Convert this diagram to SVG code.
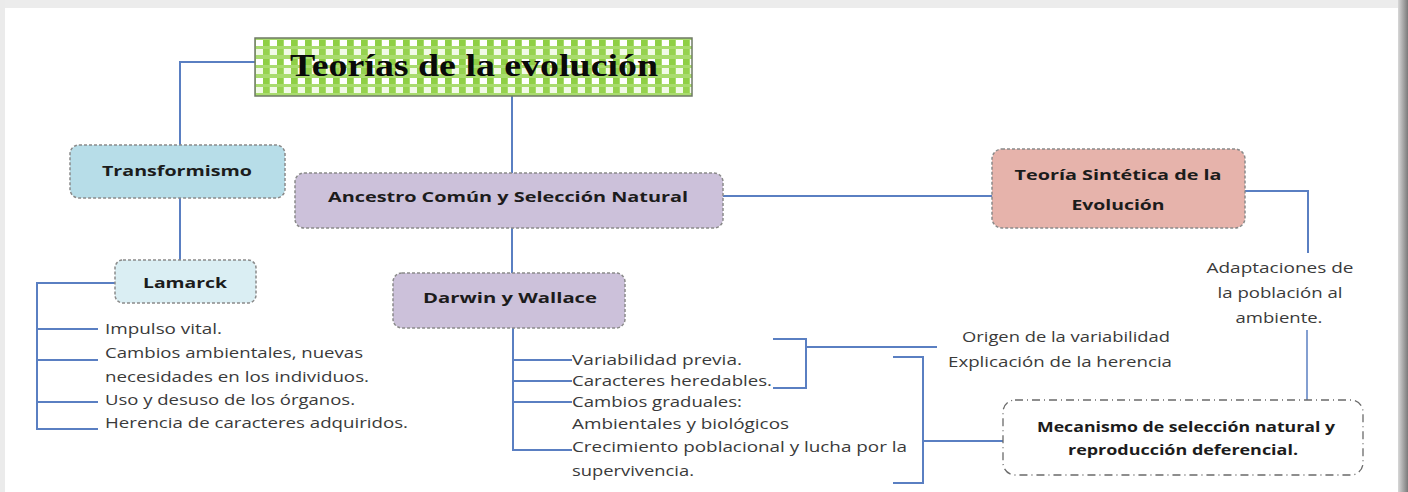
<svg xmlns="http://www.w3.org/2000/svg" width="1408" height="492" viewBox="0 0 1408 492">
<defs>
<pattern id="chk" x="255" y="38" width="14" height="19" patternUnits="userSpaceOnUse">
<rect width="14" height="19" fill="#a9dc6e"/>
<rect x="1" y="2" width="7" height="6" fill="#ffffff"/>
<rect x="8" y="2" width="6" height="6" fill="#8fcf45"/>
<rect x="1" y="11" width="7" height="6" fill="#f2fae8"/>
<rect x="8" y="11" width="6" height="6" fill="#96d24f"/>
</pattern>
<linearGradient id="shadowR" x1="0" x2="1" y1="0" y2="0">
<stop offset="0" stop-color="#d8d8d8"/>
<stop offset="1" stop-color="#7a7a7a"/>
</linearGradient>
</defs>
<style>
.conn{fill:none;stroke:#5a7fc2;stroke-width:2}
.box{stroke:#8a8a8a;stroke-width:1.5;stroke-dasharray:3 2}
.bt{font-family:"Open Sans","Liberation Sans",sans-serif;font-weight:bold;font-size:15px;fill:#1c1c1c;text-anchor:middle}
.t{font-family:"Open Sans","Liberation Sans",sans-serif;font-size:14px;fill:#3a3a3a}
.tc{font-family:"Open Sans","Liberation Sans",sans-serif;font-size:14px;fill:#3a3a3a;text-anchor:middle}
</style>
<rect width="1408" height="492" fill="#ffffff"/>
<rect x="0" y="0" width="1408" height="8" fill="#ececec"/>
<rect x="0" y="0" width="5" height="492" fill="#ebebeb"/>
<rect x="1398" y="0" width="10" height="492" fill="url(#shadowR)"/>

<g id="connectors">
<polyline class="conn" points="255,62 180,62 180,145"/>
<line class="conn" x1="180" y1="198" x2="180" y2="260"/>
<line class="conn" x1="512" y1="96" x2="512" y2="173"/>
<line class="conn" x1="512" y1="228" x2="512" y2="273"/>
<line class="conn" x1="723" y1="196" x2="992" y2="196"/>
<polyline class="conn" points="1245,191 1308,191 1308,253"/>
<line class="conn" x1="1307" y1="330" x2="1307" y2="400" style="stroke-width:1.5"/>
<polyline class="conn" points="115,283 37,283 37,429 98,429"/>
<line class="conn" x1="37" y1="329" x2="98" y2="329"/>
<line class="conn" x1="37" y1="360" x2="98" y2="360"/>
<line class="conn" x1="37" y1="402" x2="98" y2="402"/>
<polyline class="conn" points="513,328 513,450 572,450"/>
<line class="conn" x1="513" y1="360" x2="572" y2="360"/>
<line class="conn" x1="513" y1="381" x2="572" y2="381"/>
<line class="conn" x1="513" y1="402" x2="572" y2="402"/>
<polyline class="conn" points="773,339 806,339 806,388 773,388"/>
<line class="conn" x1="806" y1="347" x2="937" y2="347"/>
<polyline class="conn" points="893,357 923,357 923,483 893,483"/>
<line class="conn" x1="923" y1="441" x2="1003" y2="441"/>
</g>

<g id="title">
<rect x="255" y="38" width="437" height="58" fill="url(#chk)" stroke="#6f7a66" stroke-width="1.5"/>
<text x="474" y="76" font-family="'Liberation Serif',serif" font-weight="bold" font-size="31" fill="#0a0a0a" text-anchor="middle" textLength="368" lengthAdjust="spacingAndGlyphs">Teorías de la evolución</text>
</g>

<g id="transformismo">
<rect class="box" x="70" y="145" width="215" height="53" rx="9" fill="#b7dde8"/>
<text class="bt" x="177" y="176" textLength="150" lengthAdjust="spacingAndGlyphs">Transformismo</text>
</g>

<g id="lamarck">
<rect class="box" x="115" y="260" width="141" height="43" rx="8" fill="#daeef3"/>
<text class="bt" x="185" y="288" textLength="84" lengthAdjust="spacingAndGlyphs">Lamarck</text>
</g>

<g id="lamarck-list">
<text class="t" x="105" y="334" textLength="117" lengthAdjust="spacingAndGlyphs">Impulso vital.</text>
<text class="t" x="105" y="358" textLength="258" lengthAdjust="spacingAndGlyphs">Cambios ambientales, nuevas</text>
<text class="t" x="105" y="382" textLength="264" lengthAdjust="spacingAndGlyphs">necesidades en los individuos.</text>
<text class="t" x="105" y="405" textLength="250" lengthAdjust="spacingAndGlyphs">Uso y desuso de los órganos.</text>
<text class="t" x="105" y="428" textLength="303" lengthAdjust="spacingAndGlyphs">Herencia de caracteres adquiridos.</text>
</g>

<g id="ancestro">
<rect class="box" x="295" y="173" width="428" height="55" rx="9" fill="#ccc1da"/>
<text class="bt" x="508" y="202" textLength="360" lengthAdjust="spacingAndGlyphs">Ancestro Común y Selección Natural</text>
</g>

<g id="darwin">
<rect class="box" x="393" y="273" width="232" height="55" rx="9" fill="#ccc1da"/>
<text class="bt" x="510" y="303" textLength="174" lengthAdjust="spacingAndGlyphs">Darwin y Wallace</text>
</g>

<g id="darwin-list">
<text class="t" x="572" y="365" textLength="170" lengthAdjust="spacingAndGlyphs">Variabilidad previa.</text>
<text class="t" x="572" y="386" textLength="200" lengthAdjust="spacingAndGlyphs">Caracteres heredables.</text>
<text class="t" x="572" y="407" textLength="170" lengthAdjust="spacingAndGlyphs">Cambios graduales:</text>
<text class="t" x="572" y="429" textLength="217" lengthAdjust="spacingAndGlyphs">Ambientales y biológicos</text>
<text class="t" x="572" y="452" textLength="335" lengthAdjust="spacingAndGlyphs">Crecimiento poblacional y lucha por la</text>
<text class="t" x="572" y="476" textLength="122" lengthAdjust="spacingAndGlyphs">supervivencia.</text>
</g>

<g id="origen">
<text class="tc" x="1066" y="342" textLength="208" lengthAdjust="spacingAndGlyphs">Origen de la variabilidad</text>
<text class="tc" x="1060" y="367" textLength="224" lengthAdjust="spacingAndGlyphs">Explicación de la herencia</text>
</g>

<g id="sintetica">
<rect class="box" x="992" y="149" width="253" height="79" rx="10" fill="#e6b3ab"/>
<text class="bt" x="1118" y="180" textLength="207" lengthAdjust="spacingAndGlyphs">Teoría Sintética de la</text>
<text class="bt" x="1118" y="210" textLength="93" lengthAdjust="spacingAndGlyphs">Evolución</text>
</g>

<g id="adaptaciones">
<text class="tc" x="1280" y="273" textLength="147" lengthAdjust="spacingAndGlyphs">Adaptaciones de</text>
<text class="tc" x="1280" y="298" textLength="125" lengthAdjust="spacingAndGlyphs">la población al</text>
<text class="tc" x="1279" y="323" textLength="87" lengthAdjust="spacingAndGlyphs">ambiente.</text>
</g>

<g id="mecanismo">
<rect x="1003" y="400" width="360" height="75" rx="12" fill="#ffffff" stroke="#6a6a6a" stroke-width="1.3" stroke-dasharray="8 4 1 4"/>
<text class="bt" x="1186" y="432" textLength="298" lengthAdjust="spacingAndGlyphs">Mecanismo de selección natural y</text>
<text class="bt" x="1183" y="455" textLength="230" lengthAdjust="spacingAndGlyphs">reproducción deferencial.</text>
</g>
</svg>
